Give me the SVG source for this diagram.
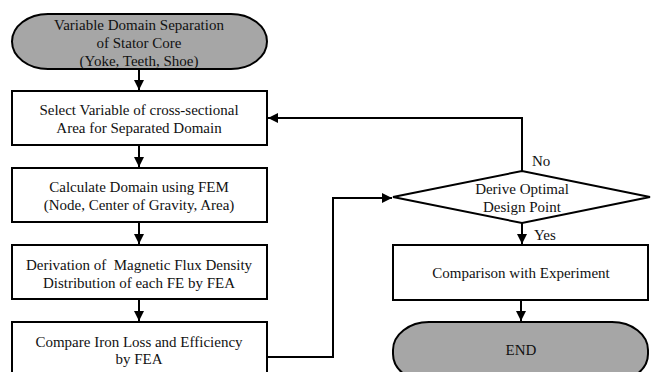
<svg xmlns="http://www.w3.org/2000/svg" width="653" height="372" viewBox="0 0 653 372">
  <style>
    .box { fill: #ffffff; stroke: #000000; stroke-width: 2; }
    .term { fill: #a6a6a6; stroke: #000000; stroke-width: 2; }
    text { font-size: 15px; fill: #111111; dominant-baseline: central; }
    .lbl { text-anchor: middle; }
    .wire { fill: none; stroke: #000000; stroke-width: 2; }
  </style>
  <defs>
    <marker id="arrow" viewBox="0 0 10 10" refX="10" refY="5" markerWidth="5" markerHeight="5" orient="auto" markerUnits="strokeWidth">
      <path d="M0,0 L10,5 L0,10 Z" fill="#000000"/>
    </marker>
  </defs>
  <rect width="653" height="372" fill="#ffffff"/>

  <g font-family="Liberation Serif, Times New Roman, serif">
  <g id="start">
    <rect class="term" x="12" y="14" width="255" height="55" rx="36" ry="27.5"/>
    <text class="lbl" x="139" y="25">Variable Domain Separation</text>
    <text class="lbl" x="139" y="43">of Stator Core</text>
    <text class="lbl" x="139" y="61">(Yoke, Teeth, Shoe)</text>
  </g>

  <g id="select-variable">
    <rect class="box" x="12" y="91" width="255" height="54"/>
    <text class="lbl" x="139" y="110">Select Variable of cross-sectional</text>
    <text class="lbl" x="139" y="128">Area for Separated Domain</text>
  </g>

  <g id="calculate-domain">
    <rect class="box" x="12" y="168" width="255" height="54"/>
    <text class="lbl" x="139" y="187">Calculate Domain using FEM</text>
    <text class="lbl" x="139" y="205">(Node, Center of Gravity, Area)</text>
  </g>

  <g id="flux-density">
    <rect class="box" x="12" y="245" width="255" height="54"/>
    <text class="lbl" x="139" y="265" xml:space="preserve">Derivation of  Magnetic Flux Density</text>
    <text class="lbl" x="139" y="283">Distribution of each FE by FEA</text>
  </g>

  <g id="iron-loss">
    <rect class="box" x="12" y="322" width="255" height="60"/>
    <text class="lbl" x="139" y="342">Compare Iron Loss and Efficiency</text>
    <text class="lbl" x="139" y="359">by FEA</text>
  </g>

  <g id="decision">
    <polygon class="box" points="393,197 522,171 650,197 522,223"/>
    <text class="lbl" x="522" y="189">Derive Optimal</text>
    <text class="lbl" x="522" y="207">Design Point</text>
  </g>

  <g id="experiment">
    <rect class="box" x="393" y="245" width="255" height="55"/>
    <text class="lbl" x="521" y="273">Comparison with Experiment</text>
  </g>

  <g id="end">
    <rect class="term" x="393" y="322" width="255" height="60" rx="36" ry="28"/>
    <text class="lbl" x="521" y="350">END</text>
  </g>

  <g id="connectors">
    <line class="wire" x1="139" y1="69" x2="139" y2="90" marker-end="url(#arrow)"/>
    <line class="wire" x1="139" y1="145" x2="139" y2="167" marker-end="url(#arrow)"/>
    <line class="wire" x1="139" y1="222" x2="139" y2="244" marker-end="url(#arrow)"/>
    <line class="wire" x1="139" y1="299" x2="139" y2="321" marker-end="url(#arrow)"/>
    <polyline class="wire" points="267,357 333,357 333,198 392,198" marker-end="url(#arrow)"/>
    <polyline class="wire" points="522,171 522,118 268,118" marker-end="url(#arrow)"/>
    <line class="wire" x1="522" y1="223" x2="522" y2="244" marker-end="url(#arrow)"/>
    <line class="wire" x1="521" y1="300" x2="521" y2="321" marker-end="url(#arrow)"/>
    <text x="532" y="161">No</text>
    <text x="534" y="235">Yes</text>
  </g>
  </g>
</svg>
